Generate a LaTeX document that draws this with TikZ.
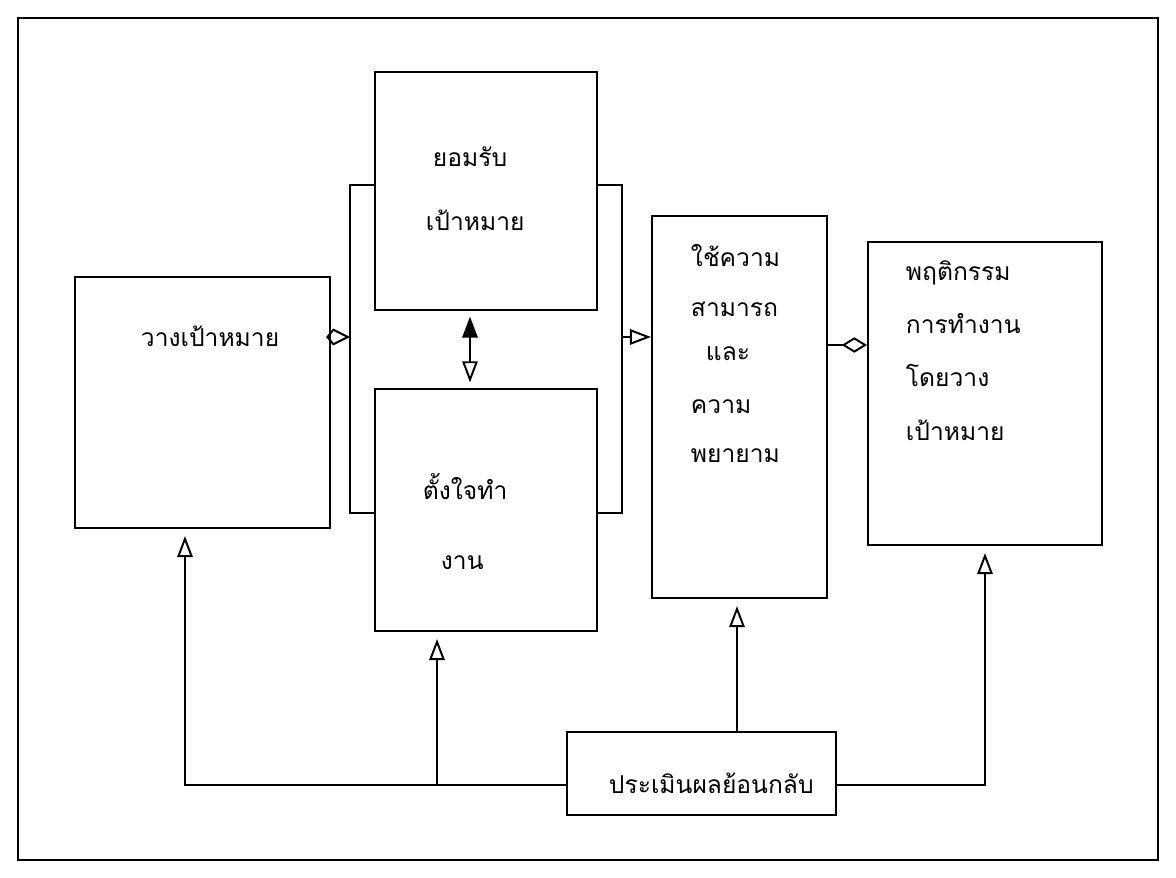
\documentclass[tikz,border=0pt]{standalone}
\usepackage{fontspec}
\newfontfamily\thaifont[Script=Thai]{Loma}
\usetikzlibrary{arrows.meta}
\begin{document}
\begin{tikzpicture}[x=0.025cm,y=-0.025cm,line width=1.4pt,
  every node/.style={font=\thaifont\fontsize{17.5}{21}\selectfont},
  blk/.style={draw,inner sep=0pt},
  txt/.style={anchor=base west,inner sep=0pt},
  fb/.style={-{Triangle[open,length=15pt,width=11pt]},shorten >=5pt},
  kitehead/.style={-{Kite[open,length=17pt,width=12pt,inset=5pt]}},
  openhead/.style={-{Triangle[open,length=15pt,width=11pt]}},
  diamhead/.style={-{Diamond[open,length=18pt,width=11pt]}}]
\useasboundingbox (0,0) rectangle (1176,878);
\draw[line width=1.5pt] (18,18) rectangle (1158,860);
% boxes
\node[blk,minimum width=6.375cm,minimum height=6.275cm] (goal) at (202.5,402.5) {};
\node[blk,minimum width=5.55cm,minimum height=5.95cm] (accept) at (486,191) {};
\node[blk,minimum width=5.55cm,minimum height=6.05cm] (intend) at (486,510) {};
\node[blk,minimum width=4.375cm,minimum height=9.55cm] (ability) at (739.5,407) {};
\node[blk,minimum width=5.85cm,minimum height=7.575cm] (behav) at (985,393.5) {};
\node[blk,minimum width=6.725cm,minimum height=2.075cm] (eval) at (701.5,773.5) {};
% texts
\foreach \x/\y/\t [count=\i] in {140/347/วางเป้าหมาย,
    432/167/ยอมรับ,425/231/เป้าหมาย,422/499/ตั้งใจทำ,440/569/งาน,
    690/267/ใช้ความ,690/317/สามารถ,705/361/และ,690/414/ความ,690/462/พยายาม,
    905/281/พฤติกรรม,905/334/การทำงาน,905/387/โดยวาง,905/441/เป้าหมาย,
    608/793/ประเมินผลย้อนกลับ}
  \node[txt] (t\i) at (\x,\y) {\t};
% brackets
\coordinate (lt) at (350,185);
\coordinate (lb) at (350,513);
\coordinate (lm) at (350,337);
\coordinate (rt) at (622,185);
\coordinate (rb) at (622,513);
\coordinate (rm) at (622,337);
\draw (accept.west |- lt) -- (lt) -- (lb) -- (intend.west |- lb);
\draw (accept.east |- rt) -- (rt) -- (rb) -- (intend.east |- rb);
\draw[kitehead] (goal.east |- lm) -- (lm);
\draw[openhead] (rm) -- (ability.west |- rm);
\coordinate (dm) at (850,345);
\draw[diamhead] (ability.east |- dm) -- (behav.west |- dm);
\coordinate (da) at (470,0);
\draw[{Triangle[length=15pt,width=11pt]}-{Triangle[open,length=15pt,width=11pt]},shorten <=4pt,shorten >=4pt]
  (accept.south -| da) -- (intend.north -| da);
% feedback
\coordinate (g1) at (185,785);
\coordinate (g2) at (437,785);
\coordinate (g3) at (737,0);
\coordinate (g4) at (985,785);
\draw[fb] (eval.west |- g1) -- (g1) -- (goal.south -| g1);
\draw[fb] (g2) -- (intend.south -| g2);
\draw[fb] (eval.north -| g3) -- (ability.south -| g3);
\draw[fb] (eval.east |- g4) -- (g4) -- (behav.south -| g4);
\end{tikzpicture}
\end{document}
